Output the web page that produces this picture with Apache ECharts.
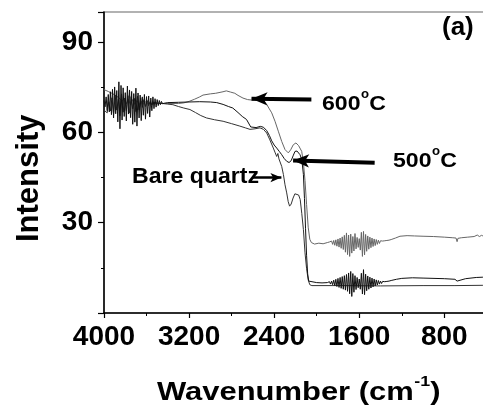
<!DOCTYPE html>
<html>
<head>
<meta charset="utf-8">
<script src="https://cdn.jsdelivr.net/npm/echarts@6.0.0/dist/echarts.min.js"></script>
<style>
  html, body { margin: 0; padding: 0; background: #fff; }
  #myChart { width: 483px; height: 408px; }
</style>
</head>
<body>
<div id="myChart"></div>
<script>
// [wavenumber, intensity]
var bareQuartz = [
    [4000, 67.4], [3985, 67.8], [3970, 66.5], [3955, 70.2], [3940, 67.1], [3925, 71.5], [3910, 66.0], [3895, 72.3],
    [3880, 67.4], [3865, 71.0], [3850, 65.5], [3835, 72.8], [3820, 66.7], [3805, 71.4], [3790, 67.2], [3775, 72.2],
    [3760, 66.4], [3745, 71.9], [3730, 67.8], [3715, 71.3], [3700, 66.9], [3685, 72.0], [3670, 67.5], [3655, 71.4],
    [3640, 68.3], [3625, 70.9], [3610, 68.6], [3595, 70.6], [3580, 68.9], [3565, 70.3], [3550, 69.1], [3535, 70.0],
    [3520, 69.4], [3500, 69.7], [3450, 69.6], [3400, 69.4], [3352, 69.2], [3300, 68.6], [3250, 68.1], [3192, 67.6],
    [3140, 66.6], [3090, 65.6], [3036, 64.8], [2960, 64.2], [2880, 63.7], [2800, 62.9], [2723, 62.1], [2670, 61.5],
    [2627, 61.0], [2580, 61.2], [2533, 61.5], [2500, 61.0], [2470, 59.8], [2440, 57.5], [2408, 54.8], [2390, 53.2],
    [2376, 52.0], [2365, 53.0], [2355, 51.2], [2345, 51.8], [2329, 48.7], [2313, 46.0], [2298, 42.6], [2282, 39.9],
    [2268, 37.0], [2255, 35.5], [2240, 36.2], [2222, 38.2], [2205, 39.6], [2188, 39.9], [2170, 39.2], [2155, 37.7],
    [2140, 33.0], [2125, 27.7], [2110, 20.0], [2095, 14.7], [2080, 11.0], [2065, 9.4], [2045, 9.1], [1800, 9.1],
    [1400, 9.0], [1000, 9.1], [700, 9.1], [437, 9.2]
];

var c500 = [
    [4000, 70.6], [3990, 68.5], [3980, 71.8], [3970, 67.2], [3960, 72.6], [3950, 66.8], [3940, 73.5], [3930, 65.9],
    [3920, 74.3], [3910, 64.8], [3900, 75.1], [3890, 66.2], [3880, 73.9], [3870, 63.5], [3860, 76.8], [3850, 61.2],
    [3840, 75.6], [3830, 64.1], [3820, 74.8], [3810, 65.3], [3800, 73.2], [3790, 63.8], [3780, 75.4], [3770, 66.1],
    [3760, 74.1], [3750, 64.9], [3740, 73.6], [3730, 62.7], [3720, 72.9], [3710, 63.4], [3700, 74.7], [3690, 62.1],
    [3680, 73.1], [3670, 64.8], [3660, 72.4], [3650, 63.9], [3640, 71.8], [3630, 65.7], [3620, 72.6], [3610, 64.4],
    [3600, 71.9], [3590, 66.3], [3580, 72.1], [3570, 65.1], [3560, 71.4], [3550, 67.2], [3540, 71.8], [3530, 67.9],
    [3520, 71.2], [3510, 68.4], [3500, 70.9], [3490, 68.9], [3480, 70.6], [3470, 69.2], [3460, 70.3], [3450, 69.5],
    [3440, 70.1], [3430, 69.7], [3400, 69.9], [3300, 70.0], [3200, 70.1], [3100, 70.2], [3000, 70.1], [2940, 69.9],
    [2880, 69.3], [2830, 68.6], [2789, 68.1], [2740, 66.6], [2700, 65.3], [2660, 64.3], [2620, 61.8], [2570, 61.6],
    [2530, 62.0], [2500, 61.7], [2470, 60.6], [2445, 59.0], [2423, 57.2], [2400, 55.8], [2376, 54.8], [2350, 53.6],
    [2329, 52.6], [2305, 51.3], [2282, 50.4], [2260, 50.0], [2240, 50.6], [2222, 52.2], [2204, 53.7], [2185, 53.8],
    [2170, 53.2], [2157, 52.6], [2140, 51.0], [2125, 46.0], [2115, 38.0], [2105, 28.0], [2095, 19.0], [2085, 13.0],
    [2075, 10.6], [2060, 10.1], [2000, 10.1], [1950, 10.0],
    [1900, 10.1], [1890, 9.8], [1880, 10.4], [1870, 9.6], [1860, 10.6], [1850, 9.4], [1840, 10.9], [1830, 9.1],
    [1820, 11.2], [1810, 8.8], [1800, 11.5], [1790, 8.5], [1780, 11.8], [1770, 8.2], [1760, 12.1], [1750, 7.9],
    [1740, 12.4], [1730, 7.6], [1720, 12.8], [1710, 7.2], [1700, 13.3], [1690, 6.4], [1680, 13.8], [1670, 5.5],
    [1660, 13.1], [1650, 6.9], [1640, 12.4], [1630, 7.8], [1620, 11.8], [1610, 8.4], [1600, 11.3], [1590, 7.9],
    [1580, 13.2], [1570, 6.3], [1560, 14.4], [1550, 6.1], [1540, 12.9], [1530, 7.4], [1520, 12.3], [1510, 7.9],
    [1500, 11.9], [1490, 8.3], [1480, 11.6], [1470, 8.7], [1460, 11.3], [1450, 9.0], [1440, 11.0], [1430, 9.3],
    [1420, 10.8], [1410, 9.6], [1400, 10.6], [1390, 9.8], [1380, 10.5], [1370, 10.0], [1360, 10.4], [1350, 10.2],
    [1340, 10.5], [1320, 10.6], [1300, 10.8], [1250, 11.2], [1200, 11.5], [1100, 11.7], [1000, 11.6], [800, 11.4],
    [700, 11.2], [680, 10.6], [670, 11.2], [600, 11.4], [500, 11.8], [437, 11.9]
];

var c600 = [
    [4000, 74.2], [3960, 73.6], [3920, 72.9], [3880, 72.0], [3850, 71.2], [3830, 70.4], [3810, 71.3], [3790, 69.5],
    [3770, 71.0], [3750, 69.1], [3730, 70.9], [3710, 69.3], [3690, 70.6], [3670, 69.2], [3650, 70.4], [3630, 69.4],
    [3610, 70.1], [3590, 69.5], [3570, 69.9], [3550, 69.6], [3500, 69.7], [3400, 69.6], [3300, 69.6], [3250, 69.8],
    [3200, 70.3], [3150, 71.0], [3100, 71.8], [3069, 72.4], [3000, 72.8], [2950, 73.0], [2881, 73.5], [2850, 73.8],
    [2810, 73.4], [2770, 73.0], [2740, 72.3], [2693, 71.4], [2650, 70.9], [2599, 70.7], [2540, 70.8], [2500, 70.5],
    [2470, 69.3], [2445, 67.8], [2423, 66.5], [2392, 63.7], [2361, 60.4], [2329, 57.0], [2298, 54.3], [2267, 53.2],
    [2245, 54.2], [2220, 55.9], [2195, 56.5], [2170, 55.6], [2141, 53.7], [2125, 50.0], [2110, 44.0], [2095, 36.0],
    [2080, 28.5], [2065, 24.5], [2050, 23.4], [2020, 22.9], [1980, 23.2], [1940, 23.0], [1900, 23.4],
    [1880, 23.6], [1870, 23.0], [1860, 23.9], [1850, 22.8], [1840, 24.1], [1830, 22.5], [1820, 24.3], [1810, 22.2],
    [1800, 24.6], [1790, 21.9], [1780, 24.9], [1770, 21.5], [1760, 25.3], [1750, 21.1], [1740, 25.8], [1730, 20.2],
    [1720, 26.6], [1710, 19.4], [1700, 25.9], [1690, 18.8], [1680, 26.2], [1670, 19.9], [1660, 25.4], [1650, 20.6],
    [1640, 26.4], [1630, 21.3], [1620, 25.1], [1610, 21.8], [1600, 24.7], [1590, 20.9], [1580, 26.8], [1570, 18.8],
    [1560, 27.1], [1550, 19.3], [1540, 26.1], [1530, 20.5], [1520, 25.6], [1510, 21.2], [1500, 25.2], [1490, 21.7],
    [1480, 24.9], [1470, 22.1], [1460, 24.6], [1450, 22.4], [1440, 24.4], [1430, 22.8], [1420, 24.2], [1410, 23.1],
    [1400, 24.0], [1390, 23.4], [1380, 23.9], [1370, 23.6], [1360, 24.0], [1350, 23.8], [1340, 24.1], [1330, 24.0],
    [1320, 24.2], [1300, 24.4], [1260, 24.9], [1217, 25.5], [1150, 25.7], [1080, 25.6], [1000, 25.5], [900, 25.4],
    [800, 25.2], [720, 25.0], [690, 24.9], [680, 23.7], [672, 24.8], [640, 25.0], [580, 25.2], [520, 25.4],
    [490, 25.9], [470, 25.4], [450, 25.8], [437, 25.6]
];

// arrows: [tail, head] in data units
var arrow600 = [[2050, 70.9], [2613, 71.2]];
var arrow500 = [[1455, 49.9], [2222, 50.7]];
var arrowQuartz = [[2601, 45.0], [2332, 45.0]];

var font = '"Liberation Sans", Arial, sans-serif';

var dom = document.getElementById("myChart");
var myChart = echarts.init(dom, null, {renderer: 'canvas'});

function arrowLine(pts, width, size) {
    return [
        {coord: pts[0], symbol: 'none'},
        {coord: pts[1], symbol: 'arrow', symbolSize: size, lineStyle: {width: width, color: '#000', type: 'solid'}}
    ];
}

// bold text with a raised small part, e.g. degree "o" or "-1"
var measureCtx = document.createElement('canvas').getContext('2d');
function supText(x, y, size, body, sup, tail, sx, supSize, raise) {
    var f1 = 'bold ' + size + 'px ' + font;
    var f2 = 'bold ' + supSize + 'px ' + font;
    measureCtx.font = f1;
    var w1 = measureCtx.measureText(body).width;
    measureCtx.font = f2;
    var w2 = measureCtx.measureText(sup).width;
    return {
        type: 'group', x: x, y: y, scaleX: sx,
        children: [
            {type: 'text', x: 0, y: 0, style: {text: body, font: f1, fill: '#000', verticalAlign: 'top'}},
            {type: 'text', x: w1 + 0.5, y: -raise, style: {text: sup, font: f2, fill: '#000', verticalAlign: 'top'}},
            {type: 'text', x: w1 + w2 + 0.5, y: 0, style: {text: tail, font: f1, fill: '#000', verticalAlign: 'top'}}
        ]
    };
}

var option = {
    animation: false,
    backgroundColor: '#fff',
    grid: {
        left: 104,
        top: 12,
        right: -46.4,   // axis runs down to 0, past the right edge of the picture
        bottom: 95,
        outerBoundsMode: 'none',
        containLabel: false,
        show: true,
        borderColor: '#666',
        borderWidth: 1.2
    },
    xAxis: {
        type: 'value',
        min: 0,
        max: 4000,
        interval: 800,
        inverse: true,
        axisLine: {onZero: false, lineStyle: {color: '#000', width: 1.5}},
        axisTick: {length: 5, lineStyle: {color: '#000', width: 1.2}},
        minorTick: {show: true, splitNumber: 2, length: 3, lineStyle: {color: '#000', width: 1}},
        splitLine: {show: false},
        axisLabel: {
            color: '#000',
            fontFamily: font,
            fontWeight: 'bold',
            fontSize: 28,
            margin: 10,
            formatter: function (v) { return v === 0 ? '' : v; }
        }
    },
    yAxis: {
        type: 'value',
        min: 0,
        max: 100,
        interval: 30,
        axisLine: {show: true, onZero: false, lineStyle: {color: '#000', width: 1.5}},
        axisTick: {show: true, length: 6, lineStyle: {color: '#000', width: 1.2}},
        minorTick: {show: true, splitNumber: 2, length: 3, lineStyle: {color: '#000', width: 1}},
        splitLine: {show: false},
        axisLabel: {
            color: '#000',
            fontFamily: font,
            fontWeight: 'bold',
            fontSize: 28,
            margin: 11,
            showMinLabel: false,
            showMaxLabel: false
        }
    },
    series: [
        {
            name: '600°C',
            type: 'line',
            data: c600,
            showSymbol: false,
            lineStyle: {color: '#666', width: 1}
        },
        {
            name: 'Bare quartz',
            type: 'line',
            data: bareQuartz,
            showSymbol: false,
            lineStyle: {color: '#333', width: 1}
        },
        {
            name: '500°C',
            type: 'line',
            data: c500,
            showSymbol: false,
            lineStyle: {color: '#111', width: 1},
            markLine: {
                silent: true,
                animation: false,
                label: {show: false},
                lineStyle: {color: '#000', type: 'solid'},
                data: [
                    arrowLine(arrow600, 4, [10, 16]),
                    arrowLine(arrow500, 4, [10, 16]),
                    arrowLine(arrowQuartz, 2.5, [7, 11])
                ]
            }
        }
    ],
    graphic: [
        supText(322, 94, 21, '600', 'o', 'C', 1.1, 12, 5),
        supText(393, 151, 21, '500', 'o', 'C', 1.1, 12, 5),
        {
            type: 'text', x: 132, y: 166, scaleX: 1.05,
            style: {text: 'Bare quartz', fill: '#000', font: 'bold 22px ' + font, verticalAlign: 'top'}
        },
        {
            type: 'text', x: 442, y: 15,
            style: {text: '(a)', fill: '#000', font: 'bold 26px ' + font, verticalAlign: 'top'}
        },
        supText(157, 380, 26, 'Wavenumber (cm', '-1', ')', 1.19, 15, 6),
        {
            type: 'text', x: 14, y: 242, rotation: Math.PI / 2,
            style: {text: 'Intensity', fill: '#000', font: 'bold 31px ' + font, verticalAlign: 'top'}
        }
    ]
};

myChart.setOption(option, true);
</script>
</body>
</html>
